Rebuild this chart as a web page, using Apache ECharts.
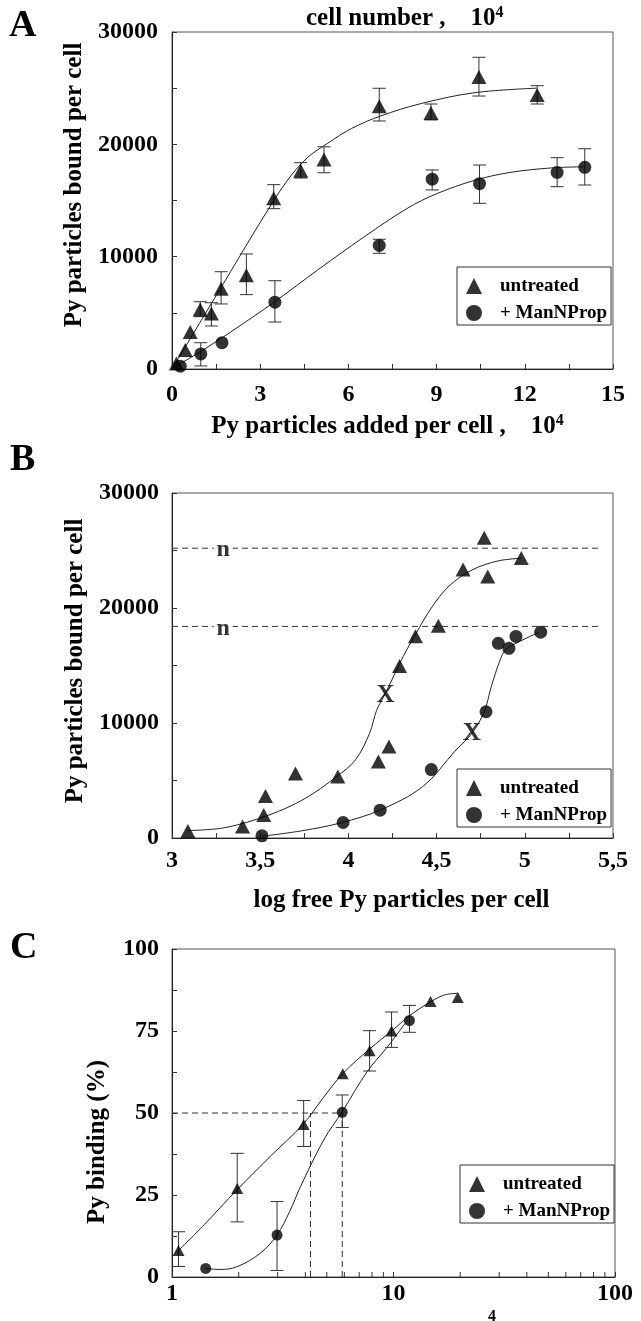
<!DOCTYPE html>
<html><head><meta charset="utf-8">
<script src="https://cdn.jsdelivr.net/npm/echarts@6/dist/echarts.min.js"></script>
<style>html,body{margin:0;padding:0;background:#fff}#c{width:641px;height:1321px}</style>
</head><body><div id="c"></div>
<script>
const FONT = 'Liberation Serif';

// ---------------- Panel A ----------------
const aXTickVals = [0, 3, 6, 9, 12, 15];
const aXTickLabels = ['0', '3', '6', '9', '12', '15'];
const aYTickVals = [0, 10000, 20000, 30000];
const aYTickLabels = ['0', '10000', '20000', '30000'];
const aUntreatedX = [0.15, 0.45, 0.62, 0.96, 1.34, 1.67, 2.53, 3.46, 4.38, 5.17, 7.05, 8.81, 10.44, 12.42];
const aUntreatedY = [500, 1700, 3300, 5300, 4950, 7150, 8350, 15200, 17650, 18650, 23400, 22800, 26000, 24400];
const aUntreatedLow = [null, null, null, 4660, 3830, 5790, 6620, 14270, 17000, 17470, 22080, 22170, 24300, 23590];
const aUntreatedHigh = [null, null, null, 5990, 5900, 8660, 10240, 16410, 18370, 19780, 24990, 23590, 27750, 25220];
const aManX = [0.28, 0.98, 1.70, 3.50, 7.05, 8.85, 10.46, 13.1, 14.04];
const aManY = [250, 1340, 2340, 5950, 11000, 16900, 16500, 17500, 17950];
const aManLow = [null, 270, null, 4180, 10300, 15940, 14750, 16230, 16380];
const aManHigh = [null, 2340, null, 7860, 11550, 17720, 18160, 18810, 19610];
const aUntreatedCurveX = [0, 1, 2, 3, 3.9, 4.6, 5.3, 6.1, 7.07, 8.5, 10.3, 12.4];
const aUntreatedCurveY = [0, 4350, 8700, 13050, 16700, 18800, 20100, 21400, 22500, 23650, 24600, 25000];
const aManCurveX = [0.1, 1, 2, 3.5, 5, 6.5, 8, 9, 10.3, 11.5, 12.9, 14];
const aManCurveY = [200, 1600, 3300, 6000, 8900, 11700, 14300, 15600, 16800, 17500, 17900, 18000];

// ---------------- Panel B ----------------
const bXTickVals = [3, 3.5, 4, 4.5, 5, 5.5];
const bXTickLabels = ['3', '3,5', '4', '4,5', '5', '5,5'];
const bYTickVals = [0, 10000, 20000, 30000];
const bYTickLabels = ['0', '10000', '20000', '30000'];
const bUntreatedX = [3.09, 3.40, 3.52, 3.53, 3.70, 3.94, 4.17, 4.23, 4.29, 4.38, 4.51, 4.65, 4.77, 4.79, 4.98];
const bUntreatedY = [600, 1000, 2000, 3650, 5600, 5350, 6650, 7950, 14950, 17550, 18450, 23350, 26100, 22750, 24350];
const bManX = [3.51, 3.97, 4.18, 4.47, 4.78, 4.85, 4.91, 4.95, 5.09];
const bManY = [190, 1350, 2420, 5950, 10980, 16930, 16490, 17530, 17900];
const bUntreatedCurveX = [3.09, 3.3, 3.55, 3.75, 3.93, 4.04, 4.12, 4.16, 4.21, 4.31, 4.38, 4.47, 4.57, 4.7, 4.85, 4.98];
const bUntreatedCurveY = [650, 900, 2000, 3400, 5300, 6800, 9100, 11100, 12580, 15760, 17700, 20000, 21900, 23300, 24100, 24320];
const bManCurveX = [3.51, 3.74, 3.96, 4.18, 4.42, 4.61, 4.70, 4.77, 4.81, 4.86, 4.89, 4.95, 5.08];
const bManCurveY = [150, 635, 1330, 2430, 4460, 7650, 9100, 10980, 13160, 15480, 16350, 16930, 17890];
const bNLevels = [25200, 18400];
const bNLineX = [3, 5.43];
const bNLabelX = 3.29;
const bXMarksX = [4.21, 4.70];
const bXMarksY = [12430, 9100];

// ---------------- Panel C ----------------
const cYTickVals = [0, 25, 50, 75, 100];
const cYTickLabels = ['0', '25', '50', '75', '100'];
const cMinorTicks = [2, 3, 4, 5, 6, 7, 8, 9, 20, 30, 40, 50, 60, 70, 80, 90];
const cUntreatedX = [1.07, 1.97, 3.93, 5.9, 7.8, 9.8, 14.7, 19.5];
const cUntreatedY = [8.1, 27, 46.5, 62, 69, 75, 84, 85.2];
const cUntreatedLow = [3.2, 16.8, 39.8, null, 62.8, 70.0, null, null];
const cUntreatedHigh = [13.8, 37.7, 53.8, null, 75.1, 80.8, null, null];
const cManX = [1.42, 2.98, 5.87, 11.8];
const cManY = [2.6, 12.8, 50.2, 78.2];
const cManLow = [null, 2.0, 45.6, 74.6];
const cManHigh = [null, 23.0, 55.5, 82.8];
const cUntreatedCurveX = [1.05, 1.4, 1.96, 2.8, 3.9, 4.8, 5.9, 7.8, 9.8, 12, 14.8, 17, 19.5];
const cUntreatedCurveY = [7.5, 16, 26.5, 37, 46.5, 54.5, 62, 69.5, 75, 80, 84, 86, 86.5];
const cManCurveX = [1.42, 1.65, 1.96, 2.5, 2.98, 3.4, 3.8, 4.84, 5.87, 7.6, 9.4, 11.6];
const cManCurveY = [2.6, 2.3, 3.1, 7.2, 12.8, 20, 27.5, 41.8, 50.4, 62.6, 70.2, 78.4];
const cHalfLevel = 50;
const cHalfX = [4.22, 5.87];

// ---------------- helpers ----------------
const zip = (xs, ys) => xs.map((x, i) => [x, ys[i]]);
const errData = (xs, lo, hi) => xs.map((x, i) => [x, lo[i], hi[i]]).filter(d => d[1] !== null);
const pick = (vals, texts) => v => {
  for (let i = 0; i < vals.length; i++) if (Math.abs(v - vals[i]) < 1e-6) return texts[i];
  return '';
};
const labelStyle = { fontFamily: FONT, fontWeight: 'bold', fontSize: 24, color: '#000' };
const nameStyle = { fontFamily: FONT, fontWeight: 'bold', fontSize: 25, color: '#000' };
const axisLine = { show: true, lineStyle: { color: '#222', width: 1 } };
const axisTick = { show: true, inside: true, length: 5, lineStyle: { color: '#333', width: 1 } };

function errRender(params, api) {
  const x = api.value(0);
  const a = api.coord([x, api.value(1)]);
  const b = api.coord([x, api.value(2)]);
  const hw = 6.5;
  const style = { stroke: '#333', lineWidth: 1 };
  return { type: 'group', children: [
    { type: 'line', shape: { x1: a[0], y1: a[1], x2: b[0], y2: b[1] }, style },
    { type: 'line', shape: { x1: a[0] - hw, y1: a[1], x2: a[0] + hw, y2: a[1] }, style },
    { type: 'line', shape: { x1: b[0] - hw, y1: b[1], x2: b[0] + hw, y2: b[1] }, style }
  ]};
}
function errSeries(gi, xs, lo, hi) {
  return { type: 'custom', xAxisIndex: gi, yAxisIndex: gi, renderItem: errRender,
    data: errData(xs, lo, hi), encode: { x: 0, y: [1, 2] }, z: 3, silent: true };
}
function curve(gi, xs, ys) {
  return { type: 'line', xAxisIndex: gi, yAxisIndex: gi, data: zip(xs, ys), smooth: 0.35,
    symbol: 'none', lineStyle: { color: '#222', width: 1 }, z: 2, silent: true };
}
function dashed(gi, pts) {
  return { type: 'line', xAxisIndex: gi, yAxisIndex: gi, data: pts, symbol: 'none',
    lineStyle: { color: '#333', width: 1, type: [6, 4] }, z: 1, silent: true };
}
function tri(gi, xs, ys, size) {
  return { type: 'scatter', name: 'untreated', xAxisIndex: gi, yAxisIndex: gi, data: zip(xs, ys),
    symbol: 'triangle', symbolSize: size, itemStyle: { color: '#000' }, z: 5 };
}
function dot(gi, xs, ys, size) {
  return { type: 'scatter', name: '+ ManNProp', xAxisIndex: gi, yAxisIndex: gi, data: zip(xs, ys),
    symbol: 'circle', symbolSize: size, itemStyle: { color: '#000' }, z: 5 };
}
function legend(left, top) {
  return {
    left, top, orient: 'vertical', backgroundColor: '#fff', borderColor: '#333', borderWidth: 1,
    padding: [9, 4, 2, 9], itemGap: 7, itemWidth: 16, itemHeight: 16, selectedMode: false,
    data: [{ name: 'untreated', icon: 'triangle' }, { name: '+ ManNProp', icon: 'circle' }],
    formatter: n => '{a|' + n + '}',
    textStyle: { fontFamily: FONT, fontWeight: 'bold', fontSize: 19, color: '#000', lineHeight: 20,
      rich: { a: { fontFamily: FONT, fontWeight: 'bold', fontSize: 19, color: '#000', padding: [0, 0, 0, 13] } } }
  };
}
const supRich = { s: { fontFamily: FONT, fontWeight: 'bold', fontSize: 16, color: '#000', verticalAlign: 'top', lineHeight: 14 } };
const letterFont = 'bold 38px "Liberation Serif"';

const option = {
  animation: false,
  backgroundColor: '#fff',
  grid: [
    { left: 172, top: 32, width: 441, height: 337, show: true, borderColor: '#555', borderWidth: 1 },
    { left: 172, top: 493, width: 441, height: 345, show: true, borderColor: '#555', borderWidth: 1 },
    { left: 172, top: 949, width: 443, height: 328, show: true, borderColor: '#555', borderWidth: 1 }
  ],
  xAxis: [
    { gridIndex: 0, type: 'value', min: 0, max: 15, interval: 1.5, splitLine: { show: false }, axisLine, axisTick,
      axisLabel: Object.assign({ margin: 14, formatter: pick(aXTickVals, aXTickLabels) }, labelStyle),
      name: 'Py particles added per cell ,    10{s|4}', nameLocation: 'middle', nameGap: 44,
      nameTextStyle: Object.assign({ padding: [0, 10, 0, 0], rich: supRich, lineHeight: 28 }, nameStyle) },
    { gridIndex: 1, type: 'value', min: 3, max: 5.5, interval: 0.25, splitLine: { show: false }, axisLine, axisTick,
      axisLabel: Object.assign({ margin: 11, formatter: pick(bXTickVals, bXTickLabels) }, labelStyle),
      name: 'log free Py particles per cell', nameLocation: 'middle', nameGap: 50,
      nameTextStyle: Object.assign({ padding: [0, 0, 0, 18] }, nameStyle) },
    { gridIndex: 2, type: 'log', logBase: 10, min: 1, max: 100, splitLine: { show: false }, axisLine, axisTick,
      minorTick: { show: false },
      axisLabel: Object.assign({ margin: 5 }, labelStyle) }
  ],
  yAxis: [
    { gridIndex: 0, type: 'value', min: 0, max: 30000, interval: 5000, splitLine: { show: false }, axisLine, axisTick,
      axisLabel: Object.assign({ margin: 14, formatter: pick(aYTickVals, aYTickLabels) }, labelStyle),
      name: 'Py particles bound per cell', nameLocation: 'middle', nameGap: 78, nameRotate: 90,
      nameTextStyle: Object.assign({ padding: [0, 0, 0, 31] }, nameStyle) },
    { gridIndex: 1, type: 'value', min: 0, max: 30000, interval: 5000, splitLine: { show: false }, axisLine, axisTick,
      axisLabel: Object.assign({ margin: 13, formatter: pick(bYTickVals, bYTickLabels) }, labelStyle),
      name: 'Py particles bound per cell', nameLocation: 'middle', nameGap: 80, nameRotate: 90,
      nameTextStyle: Object.assign({ padding: [0, 0, 0, 9] }, nameStyle) },
    { gridIndex: 2, type: 'value', min: 0, max: 100, interval: 12.5, splitLine: { show: false }, axisLine, axisTick,
      axisLabel: Object.assign({ margin: 13, formatter: pick(cYTickVals, cYTickLabels) }, labelStyle),
      name: 'Py binding (%)', nameLocation: 'middle', nameGap: 62, nameRotate: 90,
      nameTextStyle: Object.assign({ padding: [0, 58, 0, 0] }, nameStyle) }
  ],
  legend: [legend(457, 267), legend(457, 769), legend(460, 1165)],
  graphic: [
    { type: 'text', left: 9, top: 7, style: { text: 'A', font: letterFont, fill: '#000' } },
    { type: 'text', left: 10, top: 441, style: { text: 'B', font: letterFont, fill: '#000' } },
    { type: 'text', left: 10, top: 929, style: { text: 'C', font: letterFont, fill: '#000' } },
    { type: 'text', left: 306, top: 5, style: { text: 'cell number ,    10{s|4}', font: 'bold 25px "Liberation Serif"', fill: '#000', rich: supRich, lineHeight: 28 } },
    { type: 'text', left: 488, top: 1309, style: { text: '4', font: 'bold 16px "Liberation Serif"', fill: '#000' } }
  ],
  series: [
    // A
    curve(0, aUntreatedCurveX, aUntreatedCurveY),
    curve(0, aManCurveX, aManCurveY),
    errSeries(0, aUntreatedX, aUntreatedLow, aUntreatedHigh),
    errSeries(0, aManX, aManLow, aManHigh),
    tri(0, aUntreatedX, aUntreatedY, [15, 14]),
    dot(0, aManX, aManY, 13),
    // B
    dashed(1, bNLineX.map(x => [x, bNLevels[0]])),
    dashed(1, bNLineX.map(x => [x, bNLevels[1]])),
    curve(1, bUntreatedCurveX, bUntreatedCurveY),
    curve(1, bManCurveX, bManCurveY),
    tri(1, bUntreatedX, bUntreatedY, [15, 14]),
    dot(1, bManX, bManY, 13),
    { type: 'scatter', xAxisIndex: 1, yAxisIndex: 1, symbolSize: 0, z: 6, silent: true,
      data: bNLevels.map(v => [bNLabelX, v]),
      label: { show: true, position: 'inside', formatter: 'n', fontFamily: FONT, fontWeight: 'bold', fontSize: 24,
        color: '#000', backgroundColor: '#fff', padding: [0, 3], offset: [0, 2] } },
    { type: 'scatter', xAxisIndex: 1, yAxisIndex: 1, symbolSize: 0, z: 6, silent: true,
      data: zip(bXMarksX, bXMarksY),
      label: { show: true, position: 'inside', formatter: 'X', fontFamily: FONT, fontWeight: 'bold', fontSize: 25, color: '#000' } },
    // C
    dashed(2, [[1, cHalfLevel], [cHalfX[1], cHalfLevel]]),
    dashed(2, [[cHalfX[0], 0], [cHalfX[0], cHalfLevel]]),
    dashed(2, [[cHalfX[1], 0], [cHalfX[1], cHalfLevel]]),
    curve(2, cUntreatedCurveX, cUntreatedCurveY),
    curve(2, cManCurveX, cManCurveY),
    errSeries(2, cUntreatedX, cUntreatedLow, cUntreatedHigh),
    errSeries(2, cManX, cManLow, cManHigh),
    { type: 'custom', xAxisIndex: 2, yAxisIndex: 2, silent: true, z: 3,
      data: cMinorTicks.map(v => [v, 0]), encode: { x: 0, y: 1 },
      renderItem: (params, api) => {
        const p = api.coord([api.value(0), 0]);
        return { type: 'line', shape: { x1: p[0], y1: p[1], x2: p[0], y2: p[1] - 5 }, style: { stroke: '#333', lineWidth: 1 } };
      } },
    tri(2, cUntreatedX, cUntreatedY, [12, 11]),
    dot(2, cManX, cManY, 11)
  ]
};
const chart = echarts.init(document.getElementById('c'), null, { renderer: 'canvas' });
chart.setOption(option);
</script></body></html>
